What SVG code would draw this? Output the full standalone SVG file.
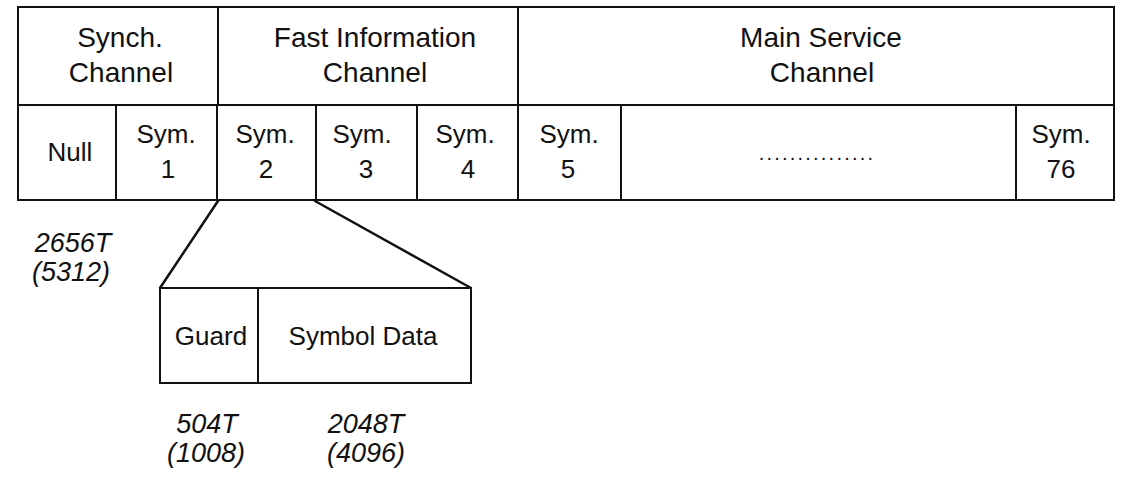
<svg xmlns="http://www.w3.org/2000/svg" width="1125" height="481" viewBox="0 0 1125 481">
<style>
.cell{fill:#fff;stroke:#111;stroke-width:2}
.t{font-family:"Liberation Sans",Arial,sans-serif;fill:#111;text-anchor:middle}
.h{font-size:28px}
.s{font-size:26px}
.i{font-family:"Liberation Sans",Arial,sans-serif;font-style:italic;font-size:27px;fill:#111;text-anchor:middle}
.conn{stroke:#111;stroke-width:2.5;fill:none;stroke-linecap:round}
</style>
<rect width="1125" height="481" fill="#fff"/>
<g id="synch-channel"><rect class="cell" x="18" y="7" width="200" height="98"/>
<text class="t h" x="120" y="47">Synch.</text><text class="t h" x="121" y="82">Channel</text></g>
<g id="fast-information-channel"><rect class="cell" x="218" y="7" width="300" height="98"/>
<text class="t h" x="375" y="47">Fast Information</text><text class="t h" x="375" y="82">Channel</text></g>
<g id="main-service-channel"><rect class="cell" x="518" y="7" width="596" height="98"/>
<text class="t h" x="821" y="47">Main Service</text><text class="t h" x="822" y="82">Channel</text></g>
<g id="null"><rect class="cell" x="18" y="105" width="98" height="95"/>
<text class="t s" x="70" y="161">Null</text></g>
<g id="sym1"><rect class="cell" x="116" y="105" width="101" height="95"/>
<text class="t s" x="166" y="143">Sym.</text><text class="t s" x="168" y="178">1</text></g>
<g id="sym2"><rect class="cell" x="217" y="105" width="99" height="95"/>
<text class="t s" x="265" y="143">Sym.</text><text class="t s" x="266" y="178">2</text></g>
<g id="sym3"><rect class="cell" x="316" y="105" width="101" height="95"/>
<text class="t s" x="362" y="143">Sym.</text><text class="t s" x="366" y="178">3</text></g>
<g id="sym4"><rect class="cell" x="417" y="105" width="101" height="95"/>
<text class="t s" x="465" y="143">Sym.</text><text class="t s" x="468" y="178">4</text></g>
<g id="sym5"><rect class="cell" x="518" y="105" width="103" height="95"/>
<text class="t s" x="569" y="143">Sym.</text><text class="t s" x="568" y="178">5</text></g>
<g id="ellipsis"><rect class="cell" x="621" y="105" width="395" height="95"/>
<text class="t" x="817" y="160" style="font-size:20px;letter-spacing:2.2px">...............</text></g>
<g id="sym76"><rect class="cell" x="1016" y="105" width="98" height="95"/>
<text class="t s" x="1061" y="143">Sym.</text><text class="t s" x="1061" y="178">76</text></g>
<g id="connectors">
<line class="conn" x1="218" y1="201" x2="160" y2="288"/>
<line class="conn" x1="315" y1="201" x2="471" y2="288"/>
</g>
<g id="guard"><rect class="cell" x="160" y="288" width="98" height="95"/>
<text class="t s" x="211" y="345">Guard</text></g>
<g id="symbol-data"><rect class="cell" x="258" y="288" width="213" height="95"/>
<text class="t s" x="363" y="345">Symbol Data</text></g>
<g id="label-symbol"><text class="i" x="73" y="252">2656T</text><text class="i" x="71" y="281">(5312)</text></g>
<g id="label-guard"><text class="i" x="207" y="433">504T</text><text class="i" x="206" y="462">(1008)</text></g>
<g id="label-data"><text class="i" x="366" y="433">2048T</text><text class="i" x="366" y="462">(4096)</text></g>
</svg>
